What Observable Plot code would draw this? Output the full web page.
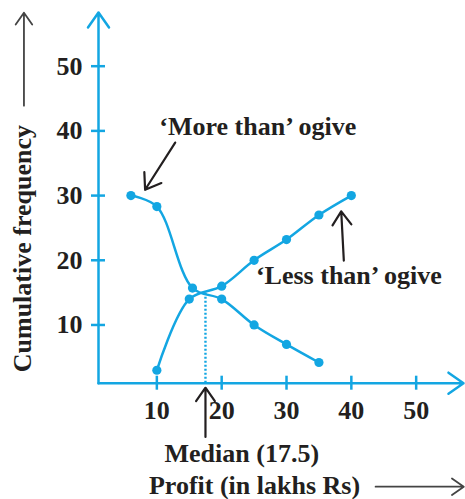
<!DOCTYPE html>
<html>
<head>
<meta charset="utf-8">
<script src="https://cdn.jsdelivr.net/npm/d3@7"></script>
<script src="https://cdn.jsdelivr.net/npm/@observablehq/plot@0.6"></script>
<style>
  html, body { margin: 0; padding: 0; background: #fff; }
</style>
</head>
<body>
<div id="chart"></div>
<script>
// Data
const lessThanX = [10, 15, 20, 25, 30, 35, 40];
const lessThanY = [3, 14, 16, 20, 23.2, 27, 30];
const moreThanX = [6, 10, 15.5, 20, 25, 30, 35];
const moreThanY = [30, 28.3, 15.7, 14, 10, 7, 4.2];
const xTicks = [10, 20, 30, 40, 50];
const yTicks = [10, 20, 30, 40, 50];
const median = 17.5;
const medianCF = 15;

const BLUE = "#13a6e2";
const INK = "#231f20";

const lessThan = lessThanX.map((x, i) => ({x, y: lessThanY[i]}));
const moreThan = moreThanX.map((x, i) => ({x, y: moreThanY[i]}));

// annotations (data coordinates, centred)
const labels = [
  {x: 25.56, y: 39.3, text: "\u2018More than\u2019 ogive"},
  {x: 39.62, y: 16.4, text: "\u2018Less than\u2019 ogive"},
  {x: 23.1, y: -11.2, text: "Median (17.5)"},
  {x: 25.07, y: -16.1, text: "Profit (in lakhs Rs)"}
];
const pointers = [
  {x1: 12.83, y1: 38.2, x2: 8.19, y2: 30.9},
  {x1: 38.84, y1: 19.94, x2: 38.44, y2: 27.56},
  {x1: median, y1: -7.3, x2: median, y2: 0.3}
];
const titleArrows = [
  {x1: 43.74, y1: -15.0, x2: 57.34, y2: -15.0},
  {x1: -10.5, y1: 43.9, x2: -10.5, y2: 58.27}
];
const axes = [
  {x1: 1, y1: 1, x2: 57.3, y2: 1},
  {x1: 1, y1: 1, x2: 1, y2: 58.3}
];

const FS = 26;

const chart = Plot.plot({
  width: 465,
  height: 499,
  marginLeft: 98,
  marginRight: 2,
  marginTop: 12,
  marginBottom: 116.3,
  style: {fontFamily: "'Liberation Serif', 'Times New Roman', serif", fontWeight: "bold", fontSize: FS + "px", color: INK, background: "#fff"},
  x: {domain: [1, 57.3]},
  y: {domain: [1, 58.3]},
  marks: [
    Plot.arrow(axes, {x1: "x1", y1: "y1", x2: "x2", y2: "y2", stroke: BLUE, strokeWidth: 2.5, headLength: 11, headAngle: 70}),
    Plot.ruleX(xTicks, {x: d => d, y1: 1, y2: 1, insetTop: -7, insetBottom: -7, stroke: BLUE, strokeWidth: 2.5}),
    Plot.ruleY(yTicks, {y: d => d, x1: 1, x2: 1, insetLeft: -7, insetRight: -7, stroke: BLUE, strokeWidth: 2.5}),
    Plot.axisX({ticks: xTicks, tickSize: 0, tickPadding: 17, label: null, fill: INK, fontSize: FS, fontWeight: "bold"}),
    Plot.axisY({ticks: yTicks, tickSize: 0, tickPadding: 16, label: null, fill: INK, fontSize: FS, fontWeight: "bold"}),
    Plot.ruleX([median], {x: d => d, y1: 1, y2: medianCF, stroke: BLUE, strokeWidth: 2.4, strokeDasharray: "2,2"}),
    Plot.line(moreThan, {x: "x", y: "y", curve: "catmull-rom", stroke: BLUE, strokeWidth: 2.5}),
    Plot.line(lessThan, {x: "x", y: "y", curve: "catmull-rom", stroke: BLUE, strokeWidth: 2.5}),
    Plot.dot(moreThan, {x: "x", y: "y", r: 4.6, fill: BLUE}),
    Plot.dot(lessThan, {x: "x", y: "y", r: 4.6, fill: BLUE}),
    Plot.arrow(pointers, {x1: "x1", y1: "y1", x2: "x2", y2: "y2", stroke: INK, strokeWidth: 2.2, headLength: 12, headAngle: 70}),
    Plot.arrow(titleArrows, {x1: "x1", y1: "y1", x2: "x2", y2: "y2", stroke: "#444", strokeWidth: 1.8, headLength: 12, headAngle: 70}),
    Plot.text(labels, {x: "x", y: "y", text: "text", textAnchor: "middle", lineAnchor: "bottom", fill: INK, fontSize: FS, fontWeight: "bold"}),
    Plot.text(["Cumulative frequency"], {x: -10.66, y: 21.8, text: d => d, rotate: -90, textAnchor: "middle", lineAnchor: "middle", fill: INK, fontSize: FS, fontWeight: "bold"})
  ]
});
document.getElementById("chart").appendChild(chart);
</script>
</body>
</html>
